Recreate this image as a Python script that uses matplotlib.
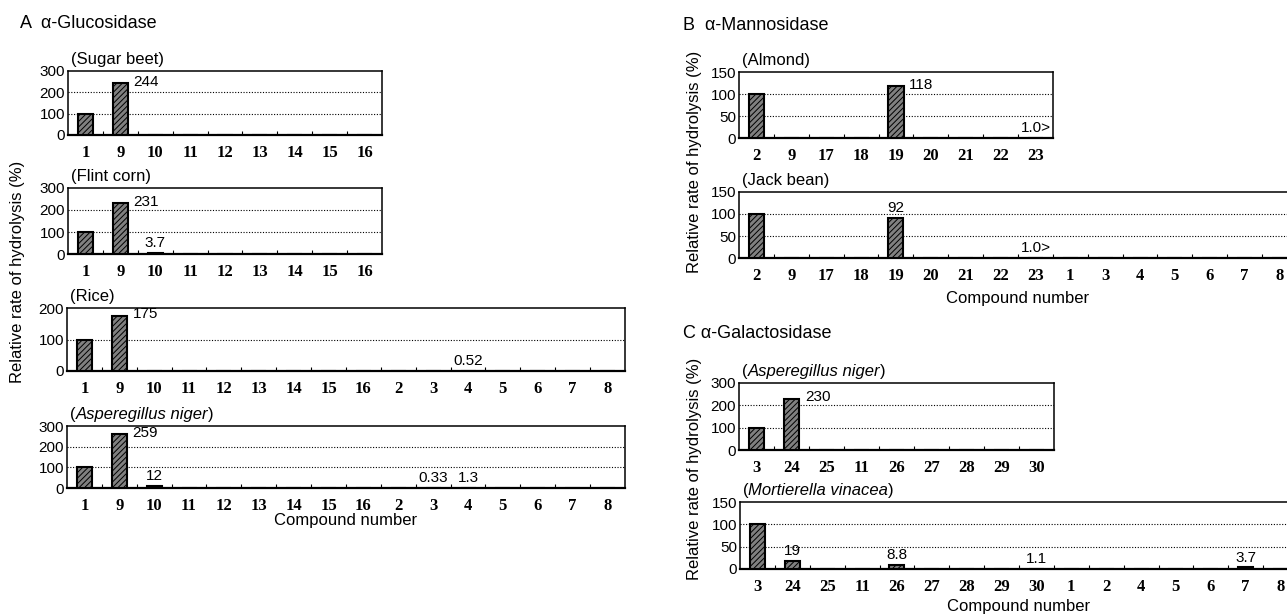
import numpy as np
import matplotlib
matplotlib.use('Agg')
import matplotlib.pyplot as plt
from matplotlib.ticker import FixedLocator

plt.rcParams['font.family'] = ['Liberation Sans', 'DejaVu Sans']
plt.rcParams['hatch.linewidth'] = 0.7

# A: alpha-glucosidase
gluc_short = ['1', '9', '10', '11', '12', '13', '14', '15', '16']
gluc_long = gluc_short + ['2', '3', '4', '5', '6', '7', '8']
sugar_beet = [100, 244, 0, 0, 0, 0, 0, 0, 0]
sugar_beet_lbl = ['', '244', '', '', '', '', '', '', '']
flint_corn = [100, 231, 3.7, 0, 0, 0, 0, 0, 0]
flint_corn_lbl = ['', '231', '3.7', '', '', '', '', '', '']
rice = [100, 175, 0, 0, 0, 0, 0, 0, 0, 0, 0, 0.52, 0, 0, 0, 0]
rice_lbl = ['', '175', '', '', '', '', '', '', '', '', '', '0.52', '', '', '', '']
asp_gluc = [100, 259, 12, 0, 0, 0, 0, 0, 0, 0, 0.33, 1.3, 0, 0, 0, 0]
asp_gluc_lbl = ['', '259', '12', '', '', '', '', '', '', '', '0.33', '1.3', '', '', '', '']

# B: alpha-mannosidase
mann_short = ['2', '9', '17', '18', '19', '20', '21', '22', '23']
mann_long = mann_short + ['1', '3', '4', '5', '6', '7', '8']
almond = [100, 0, 0, 0, 118, 0, 0, 0, 1.0]
almond_lbl = ['', '', '', '', '118', '', '', '', '1.0>']
jack_bean = [100, 0, 0, 0, 92, 0, 0, 0, 1.0, 0, 0, 0, 0, 0, 0, 0]
jack_bean_lbl = ['', '', '', '', '92', '', '', '', '1.0>', '', '', '', '', '', '', '']

# C: alpha-galactosidase
gal_short = ['3', '24', '25', '11', '26', '27', '28', '29', '30']
gal_long = gal_short + ['1', '2', '4', '5', '6', '7', '8']
asp_gal = [100, 230, 0, 0, 0, 0, 0, 0, 0]
asp_gal_lbl = ['', '230', '', '', '', '', '', '', '']
mortierella = [100, 19, 0, 0, 8.8, 0, 0, 0, 1.1, 0, 0, 0, 0, 0, 3.7, 0]
mortierella_lbl = ['', '19', '', '', '8.8', '', '', '', '1.1', '', '', '', '', '', '3.7', '']

W, H = 1287, 614
fig = plt.figure(figsize=(W / 100, H / 100), dpi=100)


def panel(box, cats, vals, lbls, ymax, step, parts):
    l, t, r, b = box  # pixel box, y from top
    ax = fig.add_axes([l / W, 1 - b / H, (r - l) / W, (b - t) / H])
    x = np.arange(len(cats))
    ax.bar(x, vals, width=0.43, color='#808080', edgecolor='black',
           linewidth=1.5, hatch='//////', zorder=3)
    ax.set_xlim(-0.5, len(cats) - 0.5)
    ax.set_ylim(0, ymax)
    ax.set_xticks(x)
    ax.set_xticklabels(cats, fontfamily='Liberation Serif', fontweight='bold', fontsize=12)
    ax.xaxis.set_minor_locator(FixedLocator(x[:-1] + 0.5))
    ax.tick_params(axis='x', which='major', length=0, pad=7)
    ax.tick_params(axis='x', which='minor', direction='in', length=3, width=0.8)
    yt = np.arange(0, ymax + 1, step)
    ax.set_yticks(yt)
    ax.set_yticklabels([str(v) for v in yt], fontsize=11)
    ax.tick_params(axis='y', length=0, pad=2)
    for g in yt[1:-1]:
        ax.axhline(g, color='black', linestyle=(0, (1, 1.5)), linewidth=0.8, zorder=1)
    for s in ax.spines.values():
        s.set_linewidth(1.1)
    ax.spines['bottom'].set_linewidth(1.6)
    for i, (v, s) in enumerate(zip(vals, lbls)):
        if not s:
            continue
        if v > 100:
            ax.annotate(s, xy=(i + 0.22, v), xytext=(4, 1), textcoords='offset points',
                        ha='left', va='center', fontsize=11)
        else:
            ax.annotate(s, xy=(i, v), xytext=(0, 2), textcoords='offset points',
                        ha='center', va='bottom', fontsize=11)
    prev = ax.annotate(parts[0][0], xy=(0, 1), xycoords='axes fraction', xytext=(2, 3),
                       textcoords='offset points', ha='left', va='bottom',
                       fontsize=12, style=parts[0][1])
    for txt, st in parts[1:]:
        prev = ax.annotate(txt, xy=(1, 0), xycoords=prev, ha='left', va='bottom',
                           fontsize=12, style=st)
    return ax


panel((68, 71, 382, 135), gluc_short, sugar_beet, sugar_beet_lbl, 300, 100,
      [('(Sugar beet)', 'normal')])
panel((68, 188, 382, 254), gluc_short, flint_corn, flint_corn_lbl, 300, 100,
      [('(Flint corn)', 'normal')])
panel((67, 308, 625, 371), gluc_long, rice, rice_lbl, 200, 100,
      [('(Rice)', 'normal')])
panel((67, 426, 625, 488), gluc_long, asp_gluc, asp_gluc_lbl, 300, 100,
      [('(', 'normal'), ('Asperegillus niger', 'italic'), (')', 'normal')])

panel((739, 72, 1053, 138), mann_short, almond, almond_lbl, 150, 50,
      [('(Almond)', 'normal')])
panel((739, 192, 1297, 258), mann_long, jack_bean, jack_bean_lbl, 150, 50,
      [('(Jack bean)', 'normal')])

panel((739, 383, 1054, 450), gal_short, asp_gal, asp_gal_lbl, 300, 100,
      [('(', 'normal'), ('Asperegillus niger', 'italic'), (')', 'normal')])
panel((740, 502, 1298, 569), gal_long, mortierella, mortierella_lbl, 150, 50,
      [('(', 'normal'), ('Mortierella vinacea', 'italic'), (')', 'normal')])

# panel titles
fig.text(20 / W, 1 - 23 / H, 'A  \u03b1-Glucosidase', fontsize=13, ha='left', va='center')
fig.text(683 / W, 1 - 25 / H, 'B  \u03b1-Mannosidase', fontsize=13, ha='left', va='center')
fig.text(683 / W, 1 - 333 / H, 'C \u03b1-Galactosidase', fontsize=13, ha='left', va='center')

# axis labels
ylab = 'Relative rate of hydrolysis (%)'
fig.text(18 / W, 1 - 272 / H, ylab, rotation=90, fontsize=12, ha='center', va='center')
fig.text(694 / W, 1 - 162 / H, ylab, rotation=90, fontsize=12, ha='center', va='center')
fig.text(694 / W, 1 - 469 / H, ylab, rotation=90, fontsize=12, ha='center', va='center')
fig.text(346 / W, 1 - 521 / H, 'Compound number', fontsize=12, ha='center', va='center')
fig.text(1018 / W, 1 - 298 / H, 'Compound number', fontsize=12, ha='center', va='center')
fig.text(1019 / W, 1 - 606 / H, 'Compound number', fontsize=12, ha='center', va='center')

fig.savefig('out.png', dpi=100)
